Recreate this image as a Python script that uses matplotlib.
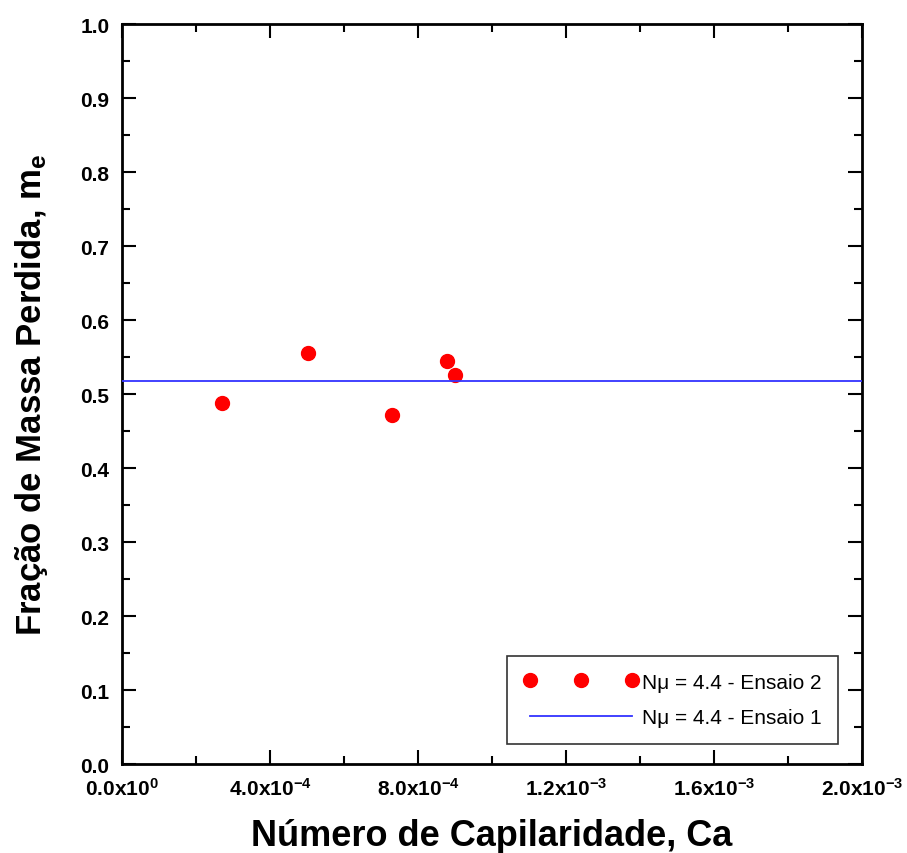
import matplotlib
matplotlib.use("Agg")
from matplotlib import pyplot as plt
from matplotlib.ticker import MultipleLocator, FuncFormatter

plt.rcParams['font.family'] = ['Liberation Sans', 'DejaVu Sans']
plt.rcParams['mathtext.fontset'] = 'custom'
plt.rcParams['mathtext.rm'] = 'Liberation Sans'
plt.rcParams['mathtext.bf'] = 'Liberation Sans:bold'
plt.rcParams['mathtext.default'] = 'regular'

# data
ca_ensaio2 = [2.7e-4, 5.03e-4, 7.3e-4, 8.78e-4, 9.0e-4]
me_ensaio2 = [0.488, 0.555, 0.472, 0.545, 0.526]
me_ensaio1 = 0.518

label_2 = "N\u03bc = 4.4 - Ensaio 2"
label_1 = "N\u03bc = 4.4 - Ensaio 1"


def fmt_x(v, pos):
    if v == 0:
        return r"0.0x10$^{0}$"
    exp = int(f"{v:e}".split("e")[1])
    mant = v / 10 ** exp
    return r"%.1fx10$^{%d}$" % (mant, exp)


fig = plt.figure(figsize=(9.07, 8.54), dpi=100)
ax = fig.add_axes([0.1345, 0.1042, 0.816, 0.8665])

ax.plot(ca_ensaio2, me_ensaio2, 'o', color='#ff0000', markersize=10,
        label=label_2, zorder=2)
ax.axhline(me_ensaio1, color='#3333ff', lw=1.3, label=label_1, zorder=3)

ax.set_xlim(0, 2.0e-3)
ax.set_ylim(0, 1.0)
ax.xaxis.set_major_locator(MultipleLocator(4e-4))
ax.xaxis.set_minor_locator(MultipleLocator(2e-4))
ax.yaxis.set_major_locator(MultipleLocator(0.1))
ax.yaxis.set_minor_locator(MultipleLocator(0.05))
ax.xaxis.set_major_formatter(FuncFormatter(fmt_x))
ax.yaxis.set_major_formatter(FuncFormatter(lambda v, p: "%.1f" % v))

ax.tick_params(which='both', direction='in', top=True, right=True, width=1.5)
ax.tick_params(which='major', length=10, labelsize=15, pad=9)
ax.tick_params(which='minor', length=6)
for lab in ax.get_xticklabels() + ax.get_yticklabels():
    lab.set_fontweight('bold')
for sp in ax.spines.values():
    sp.set_linewidth(2)

ax.set_xlabel("Número de Capilaridade, Ca", fontsize=26, fontweight='bold',
              labelpad=14)
ax.set_ylabel("Fração de Massa Perdida, m$_{e}$", fontsize=25,
              fontweight='bold', labelpad=22)

leg = ax.legend(loc='lower right', bbox_to_anchor=(0.9676, 0.027),
                borderaxespad=0, scatterpoints=3, numpoints=3,
                handlelength=5.5, fontsize=15, frameon=True, fancybox=False,
                edgecolor='black', borderpad=0.8, labelspacing=0.8,
                handletextpad=0.15)
leg.get_frame().set_linewidth(1.2)

fig.savefig("out.png", dpi=100)
